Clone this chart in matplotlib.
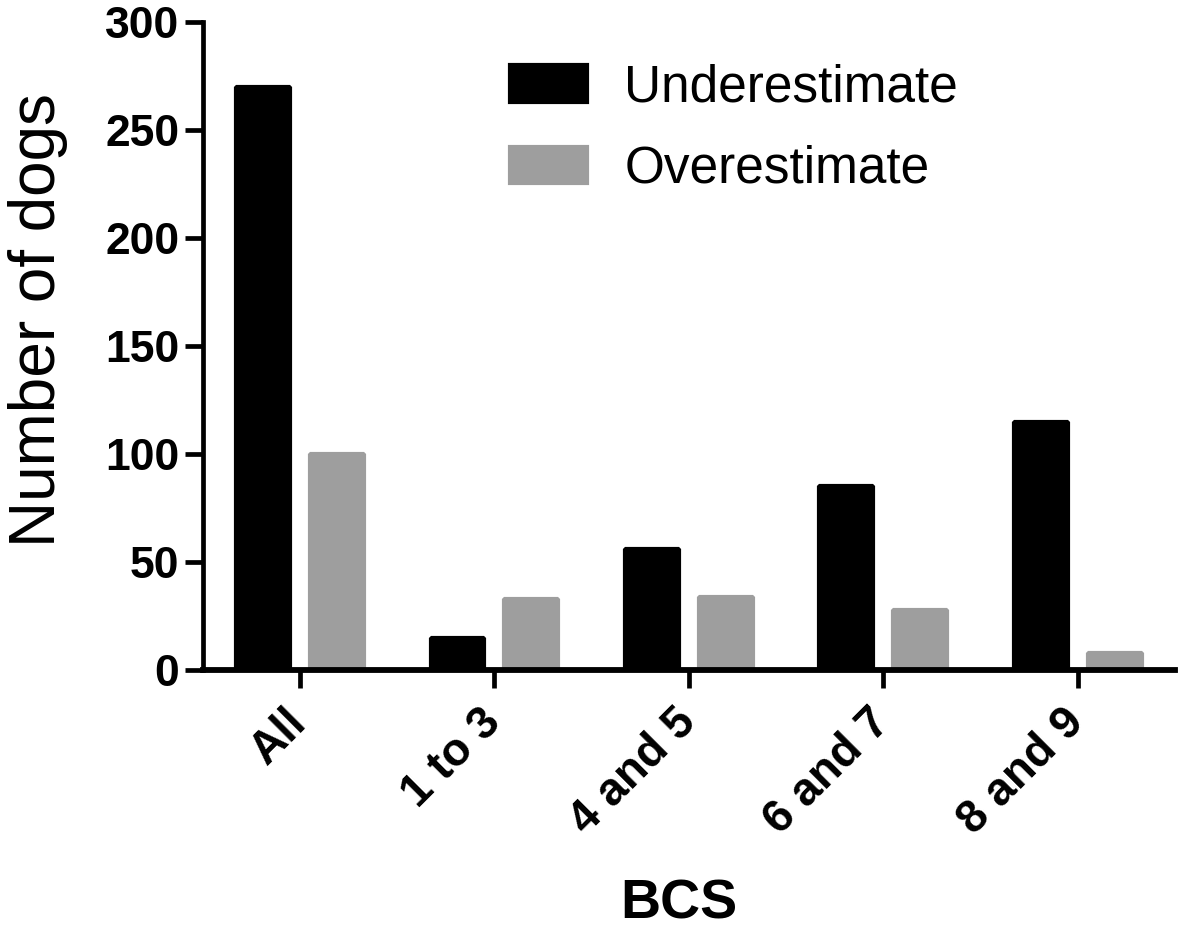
import numpy as np
import matplotlib.pyplot as plt
from matplotlib.patches import Patch

categories = ["All", "1 to 3", "4 and 5", "6 and 7", "8 and 9"]
underestimate = [270, 15, 56, 85, 115]
overestimate = [100, 33, 34, 28, 8]
yticks = [0, 50, 100, 150, 200, 250, 300]

plt.rcParams['font.family'] = ['Liberation Sans', 'DejaVu Sans']

grey = "#9e9e9e"
fig = plt.figure(figsize=(11.81, 9.32), dpi=100)
ax = fig.add_axes([203 / 1181, 1 - 670 / 932, 972 / 1181, 648 / 932])

x = np.arange(len(categories))
w = 0.277
b1 = ax.bar(x - 0.19, underestimate, w, color="black", edgecolor="black",
            linewidth=3, zorder=2)
b2 = ax.bar(x + 0.19, overestimate, w, color=grey, edgecolor=grey,
            linewidth=3, zorder=2)
# chamfered corners like the original
for p in list(b1) + list(b2):
    p.set_joinstyle("bevel")

ax.set_xlim(-0.499, 4.50)
ax.set_ylim(0, 300)
ax.set_yticks(yticks)
ax.set_xticks(x)
ax.set_xticklabels(categories, rotation=45, ha="right", va="center",
                   rotation_mode="anchor", fontsize=33, fontweight="bold")
for lab in ax.get_yticklabels():
    lab.set_fontsize(32)
    lab.set_fontweight("bold")

for s in ["top", "right"]:
    ax.spines[s].set_visible(False)
ax.spines["left"].set_linewidth(3.4)
ax.spines["bottom"].set_linewidth(4.2)
ax.spines["bottom"].set_zorder(3)
ax.tick_params(axis="both", length=13, width=3.4, color="black")
ax.tick_params(axis="y", pad=4)
ax.tick_params(axis="x", pad=20)

ax.set_ylabel("Number of dogs", fontsize=46)
ax.yaxis.set_label_coords(-0.139, 0.54)
ax.set_xlabel("BCS", fontsize=40, fontweight="bold")
ax.xaxis.set_label_coords(0.49, -0.322)

handles = [Patch(facecolor="black", edgecolor="black", linewidth=3,
                 joinstyle="bevel", label="Underestimate"),
           Patch(facecolor=grey, edgecolor=grey, linewidth=3,
                 joinstyle="bevel", label="Overestimate")]
ax.legend(handles=handles, loc="upper left", bbox_to_anchor=(0.316, 0.936),
          frameon=False, fontsize=37, handlelength=1.5, handleheight=0.72,
          handletextpad=0.72, labelspacing=0.63, borderpad=0, borderaxespad=0)

fig.savefig("out.png", dpi=100)
